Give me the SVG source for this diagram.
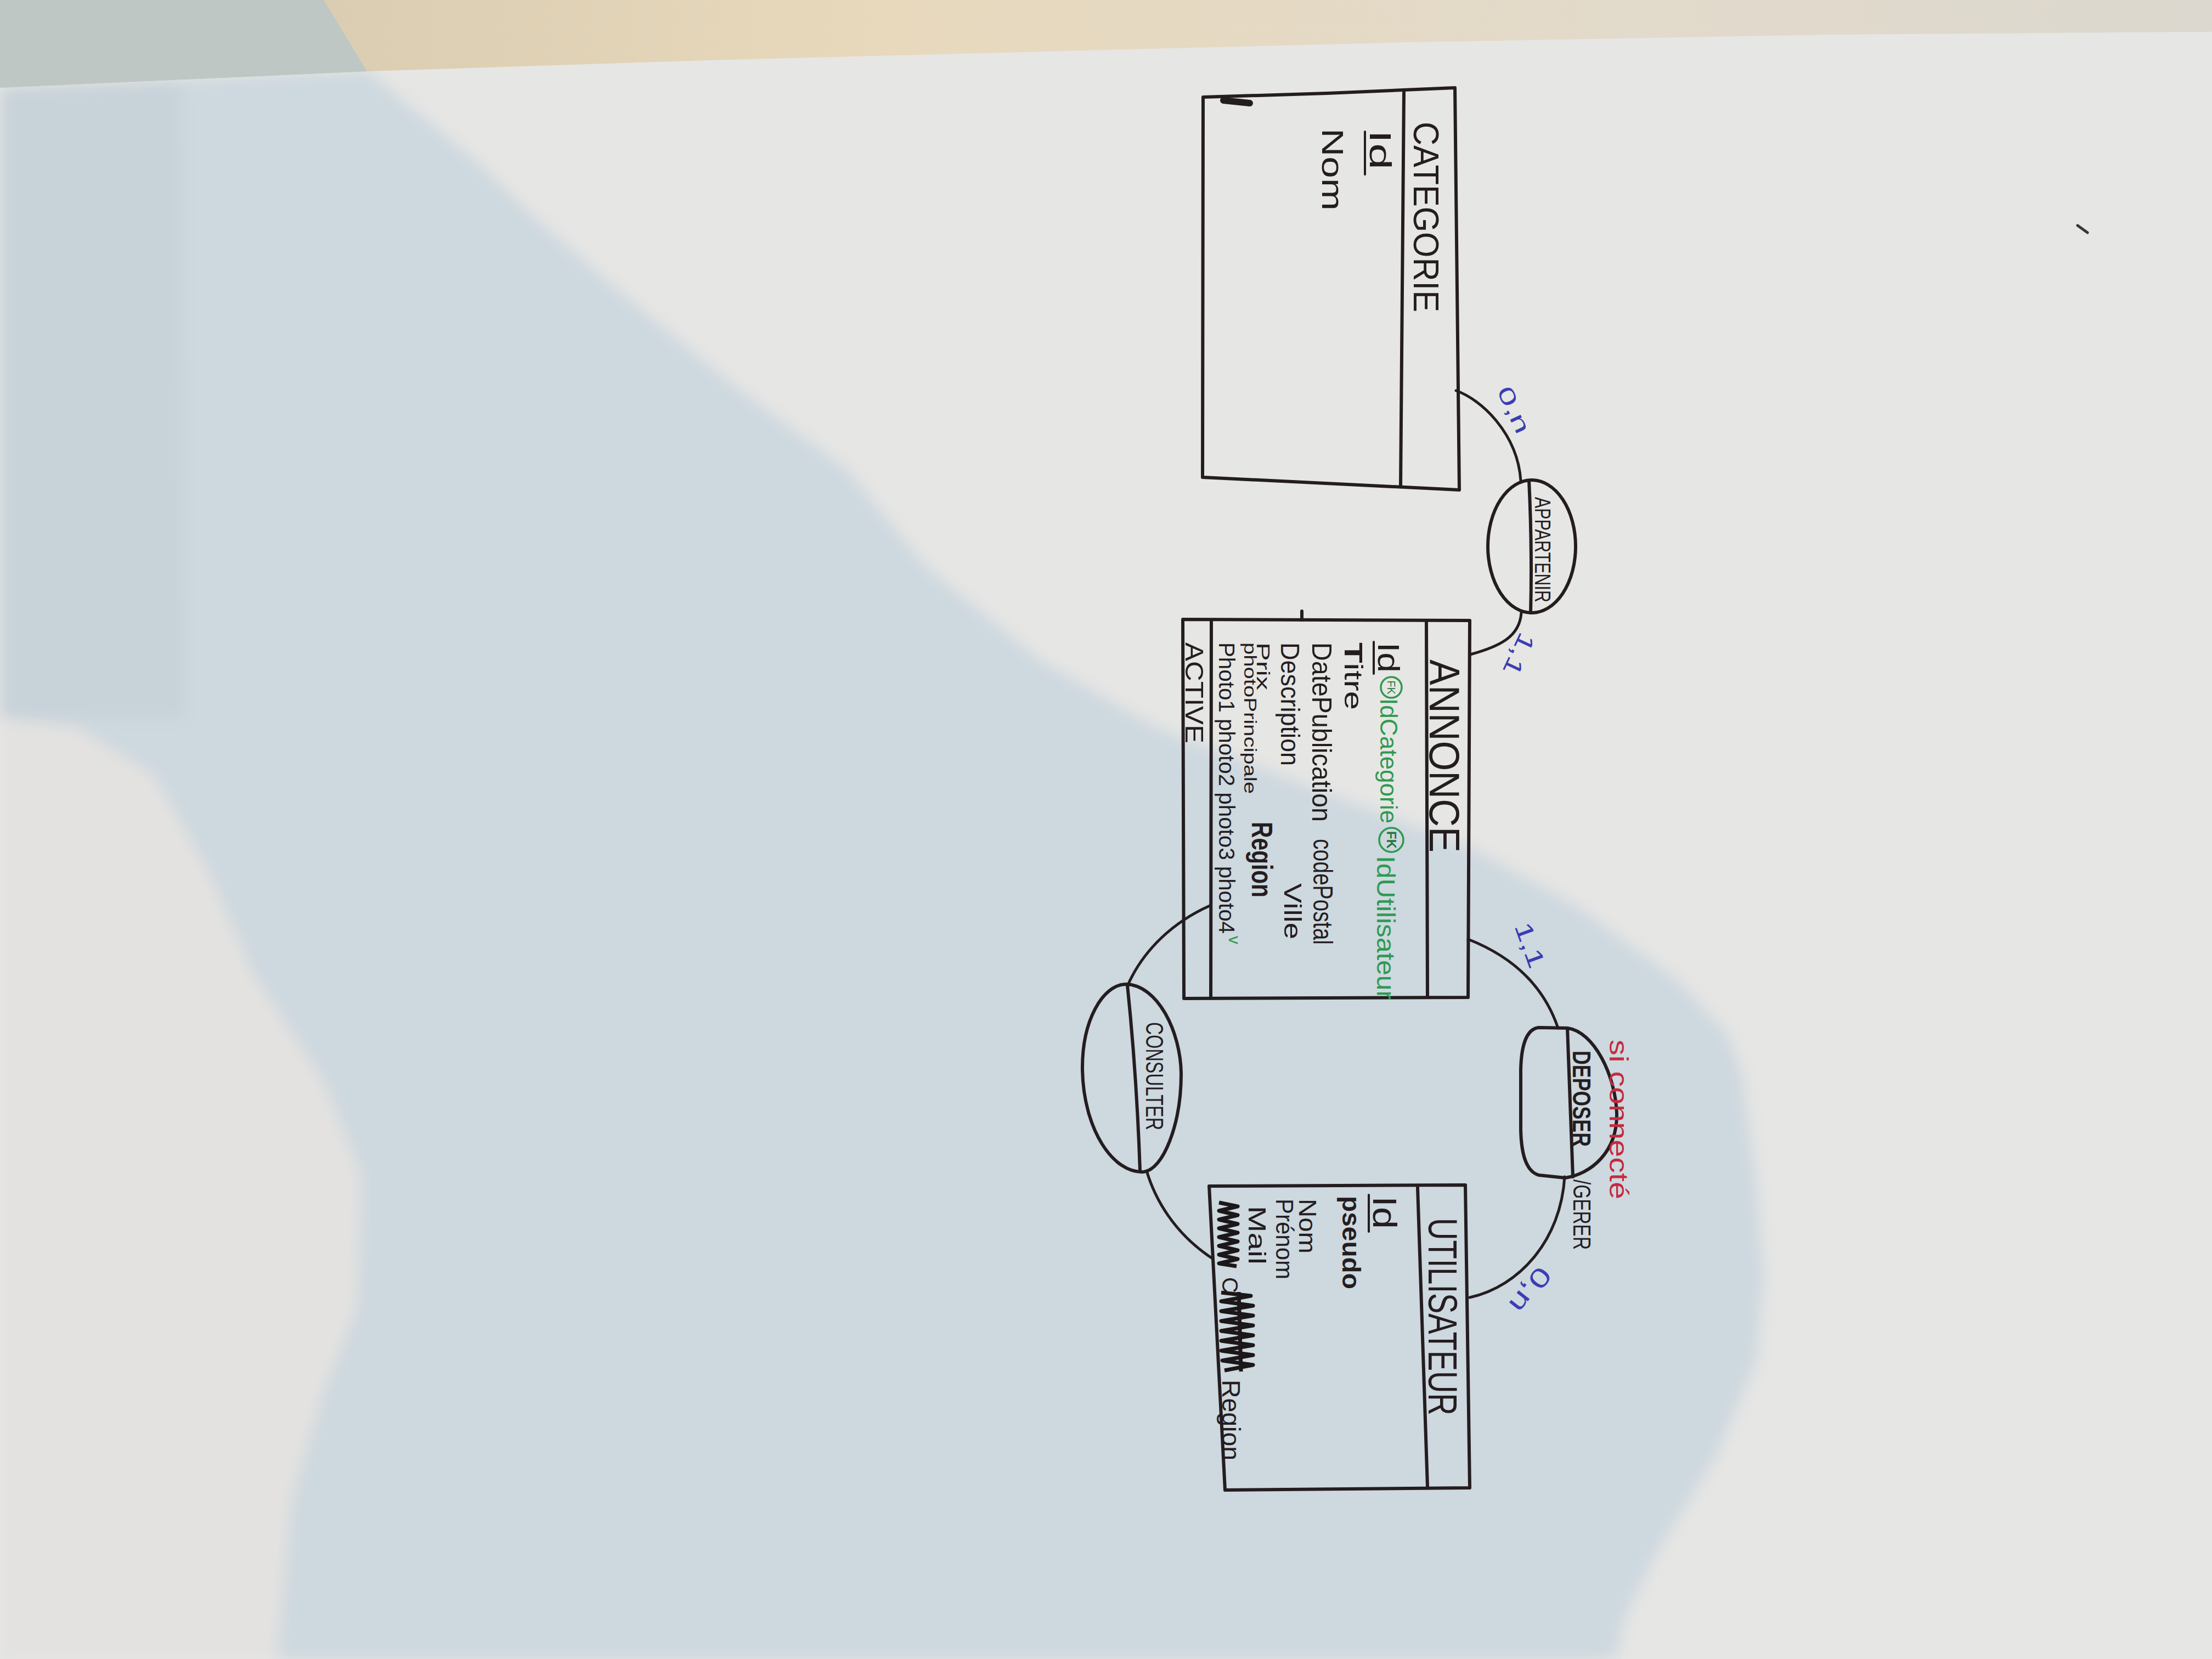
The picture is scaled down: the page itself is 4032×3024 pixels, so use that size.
<svg xmlns="http://www.w3.org/2000/svg" width="4032" height="3024" viewBox="0 0 4032 3024">
<defs>
<linearGradient id="table" x1="0" y1="0" x2="1" y2="0">
<stop offset="0.15" stop-color="#dbcdb1"/>
<stop offset="0.4" stop-color="#e8d9bd"/>
<stop offset="0.75" stop-color="#e2dacb"/>
<stop offset="1" stop-color="#dcd8cf"/>
</linearGradient>
<filter id="soft" x="-5%" y="-5%" width="110%" height="110%"><feGaussianBlur stdDeviation="14"/></filter>
<style>
.ink{fill:none;stroke:#241d1f;stroke-width:6;stroke-linecap:round;stroke-linejoin:round}
.link{fill:none;stroke:#241d1f;stroke-width:5;stroke-linecap:round}
.scrib{fill:none;stroke:#1c1718;stroke-width:7;stroke-linejoin:round}
.t{font-family:"Liberation Sans","DejaVu Sans",sans-serif;fill:#241d1f}
.g{fill:#2f9a52}
.gd{fill:#24773f}
.b{fill:#3b3db3}
.r{fill:#c62a3d}
.ring{fill:none;stroke:#2f9a52;stroke-width:3.5}
</style>
</defs>

<!-- paper, shadows and table -->
<rect width="4032" height="3024" fill="#e6e6e4"/>
<g filter="url(#soft)">
<path d="M0,160 L669,130 L874,300 L982,404 L1122,526 L1333,700 L1543,856 L1684,1030 L1894,1203 L2104,1325 L2400,1440 L2673,1542 L2874,1652 L3057,1787 L3148,1885 L3175,1959 L3200,2150 L3215,2330 L3200,2480 L3130,2650 L3020,2830 L2960,2950 L2945,3024 L0,3024 Z" fill="#cdd8df"/>
<path d="M0,160 L330,150 L337,1310 L0,1307 Z" fill="#c3ced6" opacity="0.6"/>
<path d="M0,1307 L140,1325 L281,1412 L379,1585 L463,1776 L589,1968 L659,2141 L652,2384 L589,2541 L533,2732 L505,3024 L0,3024 Z" fill="#e3e2e0"/>
</g>
<path d="M0,0 H4032 V58 L3342,63 L2571,77 L2057,90 L1286,110 L669,130 L0,160 Z" fill="url(#table)"/>
<path d="M0,0 H590 L669,130 L0,160 Z" fill="#bec7c3"/>
<path d="M3787,411 L3805,424" stroke="#3a3536" stroke-width="5" stroke-linecap="round"/>

<!-- connectors -->
<g id="connectors">
<path class="link" d="M2654,712 C2700,728 2766,790 2772,876"/>
<path class="link" d="M2773,1117 C2770,1160 2735,1178 2680,1193"/>
<path class="link" d="M2676,1712 C2760,1745 2815,1800 2840,1874"/>
<path class="link" d="M2852,2145 C2845,2260 2770,2345 2679,2365"/>
<path class="link" d="M2205,1651 C2140,1680 2085,1730 2056,1795"/>
<path class="link" d="M2090,2134 C2105,2185 2140,2248 2210,2294"/>
</g>

<!-- entity CATEGORIE -->
<g id="node-categorie">
<path class="ink" d="M2193,177 L2420,170 L2652,160 L2660,893 L2192,870 Z"/>
<path class="ink" d="M2559,168 L2553,887"/>
<path d="M2230,183 L2278,188" stroke="#241d1f" stroke-width="12" stroke-linecap="round"/>
<text class="t" font-size="64" textLength="347" lengthAdjust="spacingAndGlyphs" transform="translate(2577,222) rotate(90)">CATEGORIE</text>
<text class="t" font-size="56" textLength="72" lengthAdjust="spacingAndGlyphs" transform="translate(2497,237) rotate(90)">Id</text>
<path class="ink" style="stroke-width:4" d="M2488,240 L2488,318"/>
<text class="t" font-size="56" textLength="150" lengthAdjust="spacingAndGlyphs" transform="translate(2410,234) rotate(90)">Nom</text>
</g>

<!-- entity ANNONCE -->
<g id="node-annonce">
<path class="ink" d="M2156,1129 L2679,1131 L2676,1818 L2158,1820 Z"/>
<path class="ink" d="M2600,1133 L2602,1816"/>
<path class="ink" d="M2208,1131 L2207,1818"/>
<path class="ink" d="M2373,1114 L2373,1130"/>
<text class="t" font-size="78" textLength="352" lengthAdjust="spacingAndGlyphs" transform="translate(2606,1202) rotate(90)">ANNONCE</text>
<text class="t" font-size="56" textLength="55" lengthAdjust="spacingAndGlyphs" transform="translate(2512,1171) rotate(90)">Id</text>
<path class="ink" style="stroke-width:4" d="M2504,1170 L2504,1228"/>
<circle class="ring" cx="2536" cy="1253" r="19"/>
<text class="t gd" font-size="20" text-anchor="middle" transform="translate(2529,1253) rotate(90)">FK</text>
<text class="t g" font-size="44" textLength="228" lengthAdjust="spacingAndGlyphs" transform="translate(2516,1273) rotate(90)">IdCategorie</text>
<circle class="ring" cx="2536" cy="1531" r="22"/>
<text class="t gd" font-size="24" font-weight="bold" text-anchor="middle" transform="translate(2528,1531) rotate(90)">FK</text>
<text class="t g" font-size="46" textLength="262" lengthAdjust="spacingAndGlyphs" transform="translate(2510,1560) rotate(90)">IdUtilisateur</text>
<text class="t" font-size="46" textLength="123" lengthAdjust="spacingAndGlyphs" transform="translate(2451,1171) rotate(90)"><tspan font-weight="bold">T</tspan>itre</text>
<text class="t" font-size="50" textLength="327" lengthAdjust="spacingAndGlyphs" transform="translate(2392,1171) rotate(90)">DatePublication</text>
<text class="t" font-size="50" textLength="193" lengthAdjust="spacingAndGlyphs" transform="translate(2394,1529) rotate(90)">codePostal</text>
<text class="t" font-size="48" textLength="225" lengthAdjust="spacingAndGlyphs" transform="translate(2335,1171) rotate(90)">Description</text>
<text class="t" font-size="44" textLength="102" lengthAdjust="spacingAndGlyphs" transform="translate(2341,1610) rotate(90)">Ville</text>
<text class="t" font-size="34" textLength="87" lengthAdjust="spacingAndGlyphs" transform="translate(2291,1171) rotate(90)">Prix</text>
<text class="t" font-size="54" font-weight="bold" textLength="138" lengthAdjust="spacingAndGlyphs" transform="translate(2282,1498) rotate(90)">Region</text>
<text class="t" font-size="32" textLength="276" lengthAdjust="spacingAndGlyphs" transform="translate(2268,1171) rotate(90)">photoPrincipale</text>
<text class="t" font-size="40" textLength="531" lengthAdjust="spacingAndGlyphs" transform="translate(2222,1171) rotate(90)">Photo1 photo2 photo3 photo4</text>
<text class="t g" font-size="30" transform="translate(2240,1706) rotate(90)">v</text>
<text class="t" font-size="46" textLength="184" lengthAdjust="spacingAndGlyphs" transform="translate(2161,1171) rotate(90)">ACTIVE</text>
</g>

<!-- entity UTILISATEUR -->
<g id="node-utilisateur">
<path class="ink" d="M2204,2162 L2671,2160 L2679,2712 L2233,2716 Z"/>
<path class="ink" d="M2584,2165 L2602,2710"/>
<text class="t" font-size="74" textLength="360" lengthAdjust="spacingAndGlyphs" transform="translate(2604,2220) rotate(90)">UTILISATEUR</text>
<text class="t" font-size="62" textLength="60" lengthAdjust="spacingAndGlyphs" transform="translate(2503,2180) rotate(90)">Id</text>
<path class="ink" style="stroke-width:4" d="M2495,2178 L2495,2245"/>
<text class="t" font-size="46" font-weight="bold" textLength="170" lengthAdjust="spacingAndGlyphs" transform="translate(2447,2180) rotate(90)">pseudo</text>
<text class="t" font-size="44" textLength="100" lengthAdjust="spacingAndGlyphs" transform="translate(2368,2185) rotate(90)">Nom</text>
<text class="t" font-size="44" textLength="147" lengthAdjust="spacingAndGlyphs" transform="translate(2326,2185) rotate(90)">Prénom</text>
<text class="t" font-size="44" textLength="107" lengthAdjust="spacingAndGlyphs" transform="translate(2276,2198) rotate(90)">Mail</text>
<!-- crossed-out attributes -->
<path class="scrib" d="M2222,2192 L2256,2199 L2222,2207 L2256,2215 L2222,2223 L2256,2231 L2222,2239 L2256,2247 L2222,2255 L2256,2263 L2222,2271 L2256,2279 L2222,2287 L2256,2295 L2222,2303 L2254,2308"/>
<text class="t" font-size="40" transform="translate(2228,2328) rotate(90)">C</text>
<path class="scrib" d="M2226,2356 L2280,2362 L2226,2372 L2284,2380 L2226,2390 L2284,2398 L2226,2408 L2284,2416 L2226,2426 L2284,2434 L2226,2444 L2284,2452 L2226,2462 L2284,2470 L2228,2480 L2284,2488 L2232,2498"/>
<path class="scrib" d="M2258,2355 L2262,2500"/>
<text class="t" font-size="46" textLength="147" lengthAdjust="spacingAndGlyphs" transform="translate(2228,2515) rotate(90)">Region</text>
</g>

<!-- association APPARTENIR -->
<g id="node-appartenir">
<ellipse class="ink" cx="2792" cy="996" rx="80" ry="121"/>
<path class="ink" d="M2787,876 Q2793,1000 2790,1117"/>
<text class="t" font-size="40" textLength="192" lengthAdjust="spacingAndGlyphs" transform="translate(2798,906) rotate(90)">APPARTENIR</text>
</g>

<!-- association DEPOSER / GERER -->
<g id="node-deposer">
<path class="ink" d="M2857,1874 C2905,1880 2945,1960 2947,2030 C2948,2100 2900,2140 2853,2147 L2805,2142 C2780,2135 2773,2100 2772,2060 L2772,1950 C2773,1900 2785,1875 2805,1873 Z"/>
<path class="ink" d="M2857,1874 L2867,2145"/>
<text class="t" font-size="46" font-weight="bold" textLength="175" lengthAdjust="spacingAndGlyphs" transform="translate(2867,1915) rotate(90)">DEPOSER</text>
<text class="t" font-size="44" textLength="128" lengthAdjust="spacingAndGlyphs" transform="translate(2868,2150) rotate(90)">/GERER</text>
<text class="t r" font-size="48" textLength="291" lengthAdjust="spacingAndGlyphs" transform="translate(2934,1895) rotate(90)">si connecté</text>
</g>

<!-- association CONSULTER -->
<g id="node-consulter">
<path class="ink" d="M2052,1794 C2110,1795 2152,1880 2153,1957 C2153,2050 2120,2132 2085,2136 C2030,2140 1975,2060 1973,1950 C1972,1860 2010,1795 2052,1794 Z"/>
<path class="ink" d="M2055,1796 Q2072,1960 2078,2134"/>
<text class="t" font-size="44" textLength="197" lengthAdjust="spacingAndGlyphs" transform="translate(2089,1863) rotate(90)">CONSULTER</text>
</g>

<!-- cardinalities -->
<g id="cardinalities">
<text class="t b" font-size="40" textLength="90" lengthAdjust="spacingAndGlyphs" transform="translate(2728,712) rotate(65)">0,n</text>
<text class="t b" font-size="44" textLength="80" lengthAdjust="spacingAndGlyphs" transform="translate(2772,1150) rotate(115)">1,1</text>
<text class="t b" font-size="44" textLength="85" lengthAdjust="spacingAndGlyphs" transform="translate(2760,1688) rotate(70)">1,1</text>
<text class="t b" font-size="48" textLength="92" lengthAdjust="spacingAndGlyphs" transform="translate(2805,2305) rotate(128)">0,n</text>
</g>
</svg>
